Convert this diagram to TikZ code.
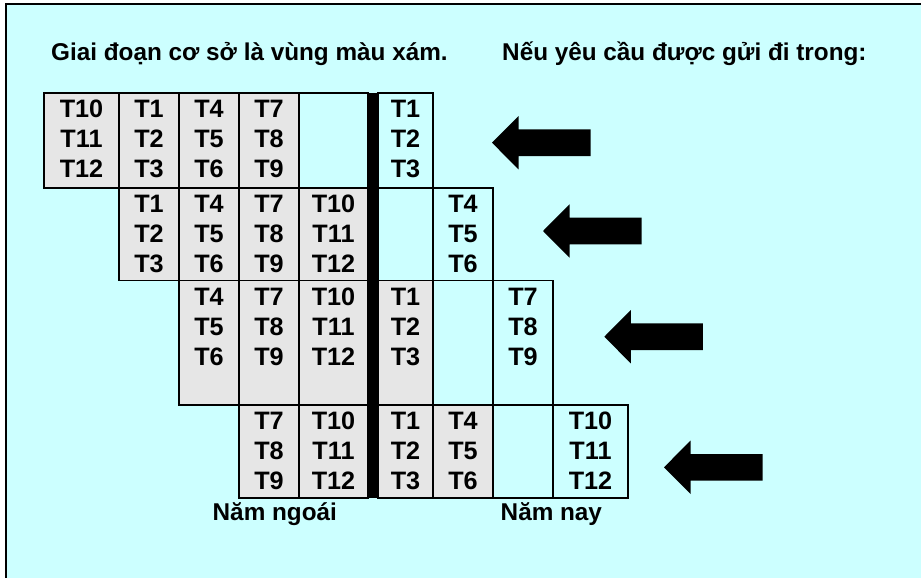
\documentclass[tikz,border=0pt]{standalone}
\usepackage{fontspec}
\setmainfont{Liberation Sans}
\definecolor{bgcyan}{HTML}{CCFFFF}
\definecolor{cellgray}{HTML}{E6E6E6}
\newcommand\mkcell[9]{%
  \pgfmathsetmacro\cw{#3-#2}%
  \pgfmathsetmacro\ch{#5-#4}%
  \pgfmathsetmacro\cx{(#2+#3)/2}%
  \pgfmathsetmacro\cy{(#4+#5)/2}%
  \pgfmathsetmacro\cd{#5-#4-84.7}%
  \node[cellbox,fill=#6,minimum width=\cw pt,minimum height=\ch pt] (#1) at (\cx,\cy)
    {\rule{0pt}{24.7pt}#7\\#8\\#9\rule[-\cd pt]{0pt}{\cd pt}};%
}
\newcommand\blockarrow[3]{%
  \fill[blockarrowstyle] (#2,#3) -- ++(26.5,-26.7) -- ++(0,13.4) -- ++(72,0) -- ++(0,26.6)
    -- ++(-72,0) -- ++(0,13.4) -- cycle;%
  \coordinate (#1) at (#2,#3);%
}
\begin{document}
\begin{tikzpicture}[x=1pt,y=-1pt,
  cellbox/.style={draw=black,line width=1.8pt,rectangle,inner sep=0pt,outer sep=0pt,
    align=center,font=\fontsize{25.2pt}{30pt}\selectfont\bfseries},
  blockarrowstyle/.style={fill=black},
  txt/.style={inner sep=0pt,anchor=base west,font=\fontsize{24.3pt}{30pt}\selectfont\bfseries}]
\useasboundingbox (0,0) rectangle (921,578);
\fill[white] (0,0) rectangle (921,578);
\fill[bgcyan] (6,4) rectangle (921,578);
\draw[line width=1.6pt] (6,578) -- (6,4) -- (921,4);
% column / row limits
\def\Xa{44}\def\Xb{119}\def\Xc{179}\def\Xd{239}\def\Xe{299}
\def\Ba{368}\def\Bb{378}\def\Xf{433}\def\Xg{493}\def\Xh{553}\def\Xi{628}
\def\Ya{93}\def\Yb{188}\def\Yc{280.5}\def\Yd{405}\def\Ye{498}
% row 1
\mkcell{r1a}{\Xa}{\Xb}{\Ya}{\Yb}{cellgray}{T10}{T11}{T12}
\mkcell{r1b}{\Xb}{\Xc}{\Ya}{\Yb}{cellgray}{T1}{T2}{T3}
\mkcell{r1c}{\Xc}{\Xd}{\Ya}{\Yb}{cellgray}{T4}{T5}{T6}
\mkcell{r1d}{\Xd}{\Xe}{\Ya}{\Yb}{cellgray}{T7}{T8}{T9}
\mkcell{r1e}{\Xe}{\Ba}{\Ya}{\Yb}{bgcyan}{}{}{}
\mkcell{r1f}{\Bb}{\Xf}{\Ya}{\Yb}{bgcyan}{T1}{T2}{T3}
% row 2
\mkcell{r2a}{\Xb}{\Xc}{\Yb}{\Yc}{cellgray}{T1}{T2}{T3}
\mkcell{r2b}{\Xc}{\Xd}{\Yb}{\Yc}{cellgray}{T4}{T5}{T6}
\mkcell{r2c}{\Xd}{\Xe}{\Yb}{\Yc}{cellgray}{T7}{T8}{T9}
\mkcell{r2d}{\Xe}{\Ba}{\Yb}{\Yc}{cellgray}{T10}{T11}{T12}
\mkcell{r2e}{\Bb}{\Xf}{\Yb}{\Yc}{bgcyan}{}{}{}
\mkcell{r2f}{\Xf}{\Xg}{\Yb}{\Yc}{bgcyan}{T4}{T5}{T6}
% row 3
\mkcell{r3a}{\Xc}{\Xd}{\Yc}{\Yd}{cellgray}{T4}{T5}{T6}
\mkcell{r3b}{\Xd}{\Xe}{\Yc}{\Yd}{cellgray}{T7}{T8}{T9}
\mkcell{r3c}{\Xe}{\Ba}{\Yc}{\Yd}{cellgray}{T10}{T11}{T12}
\mkcell{r3d}{\Bb}{\Xf}{\Yc}{\Yd}{cellgray}{T1}{T2}{T3}
\mkcell{r3e}{\Xf}{\Xg}{\Yc}{\Yd}{bgcyan}{}{}{}
\mkcell{r3f}{\Xg}{\Xh}{\Yc}{\Yd}{bgcyan}{T7}{T8}{T9}
% row 4
\mkcell{r4a}{\Xd}{\Xe}{\Yd}{\Ye}{cellgray}{T7}{T8}{T9}
\mkcell{r4b}{\Xe}{\Ba}{\Yd}{\Ye}{cellgray}{T10}{T11}{T12}
\mkcell{r4c}{\Bb}{\Xf}{\Yd}{\Ye}{cellgray}{T1}{T2}{T3}
\mkcell{r4d}{\Xf}{\Xg}{\Yd}{\Ye}{cellgray}{T4}{T5}{T6}
\mkcell{r4e}{\Xg}{\Xh}{\Yd}{\Ye}{bgcyan}{}{}{}
\mkcell{r4f}{\Xh}{\Xi}{\Yd}{\Ye}{bgcyan}{T10}{T11}{T12}
% thick divider
\fill[black] (\Ba,\Ya) rectangle (\Bb,\Ye);
% headings and labels
\node[txt] (h1) at (51,61) {Giai đoạn cơ sở là vùng màu xám.};
\node[txt] (h2) at (502,61) {Nếu yêu cầu được gửi đi trong:};
\node[txt] (lastyear) at (212.5,520) {Năm ngoái};
\node[txt] (thisyear) at (500.5,520) {Năm nay};
% arrows
\blockarrow{a1}{492}{142.7}
\blockarrow{a2}{543}{231}
\blockarrow{a3}{604.3}{336.7}
\blockarrow{a4}{664}{467.3}
\end{tikzpicture}
\end{document}
